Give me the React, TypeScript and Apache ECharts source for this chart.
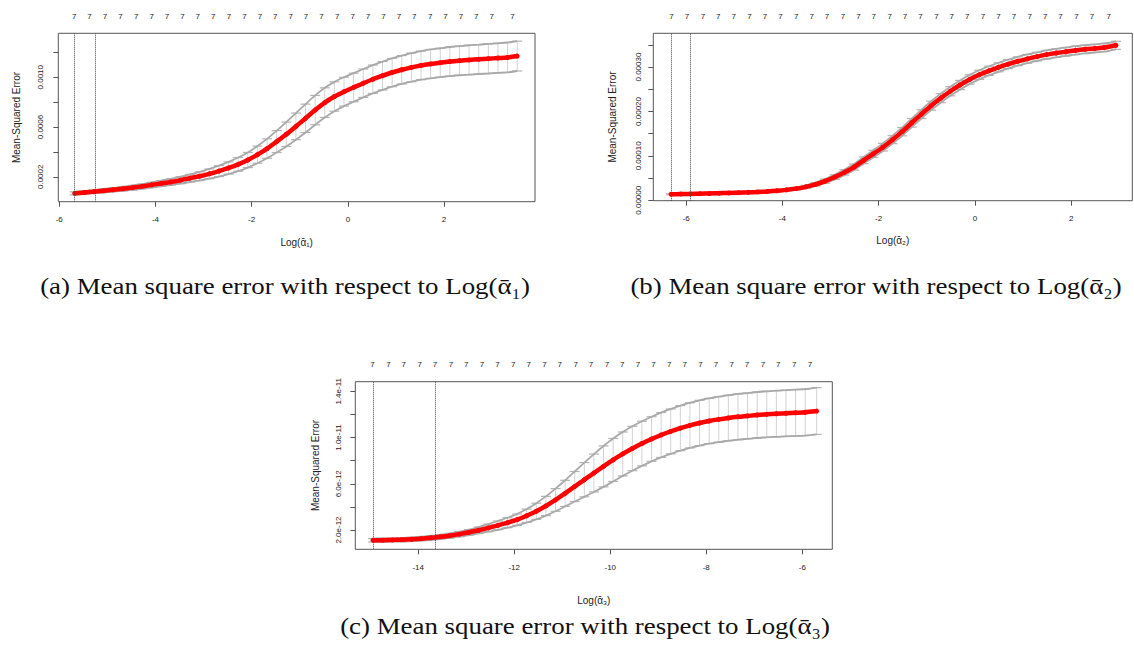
import React, { useEffect, useRef } from "react";
import * as echarts from "echarts";

// ---------------- Data: panel (a) ----------------
const logLambdaA = [-5.68, -5.48, -5.28, -5.08, -4.88, -4.68, -4.48, -4.28, -4.08, -3.88, -3.68, -3.48, -3.28, -3.08, -2.88, -2.68, -2.48, -2.28, -2.08, -1.88, -1.68, -1.48, -1.28, -1.08, -0.88, -0.68, -0.48, -0.28, -0.08, 0.12, 0.32, 0.52, 0.72, 0.92, 1.12, 1.32, 1.52, 1.72, 1.92, 2.12, 2.32, 2.52, 2.72, 2.92, 3.12, 3.32, 3.52];
const mseA = [0.67e-4, 0.73e-4, 0.81e-4, 0.88e-4, 0.96e-4, 1.04e-4, 1.13e-4, 1.23e-4, 1.35e-4, 1.47e-4, 1.59e-4, 1.73e-4, 1.89e-4, 2.05e-4, 2.24e-4, 2.46e-4, 2.71e-4, 3.0e-4, 3.35e-4, 3.78e-4, 4.27e-4, 4.83e-4, 5.42e-4, 6.05e-4, 6.70e-4, 7.36e-4, 7.96e-4, 8.45e-4, 8.84e-4, 9.18e-4, 9.52e-4, 9.84e-4, 10.12e-4, 10.38e-4, 10.60e-4, 10.79e-4, 10.95e-4, 11.07e-4, 11.17e-4, 11.26e-4, 11.33e-4, 11.39e-4, 11.44e-4, 11.49e-4, 11.54e-4, 11.59e-4, 11.70e-4];
const sdA = [0.12e-4, 0.12e-4, 0.13e-4, 0.14e-4, 0.15e-4, 0.16e-4, 0.18e-4, 0.19e-4, 0.21e-4, 0.23e-4, 0.25e-4, 0.28e-4, 0.31e-4, 0.35e-4, 0.39e-4, 0.44e-4, 0.49e-4, 0.55e-4, 0.61e-4, 0.69e-4, 0.78e-4, 0.88e-4, 0.98e-4, 1.07e-4, 1.14e-4, 1.18e-4, 1.19e-4, 1.18e-4, 1.16e-4, 1.15e-4, 1.14e-4, 1.14e-4, 1.14e-4, 1.14e-4, 1.14e-4, 1.15e-4, 1.15e-4, 1.16e-4, 1.16e-4, 1.17e-4, 1.17e-4, 1.18e-4, 1.18e-4, 1.19e-4, 1.19e-4, 1.20e-4, 1.20e-4];
const vlinesA = [-5.68, -5.26];
const nzPosA = [-5.69, -5.37, -5.05, -4.73, -4.40, -4.08, -3.76, -3.44, -3.12, -2.80, -2.47, -2.15, -1.83, -1.51, -1.19, -0.87, -0.55, -0.22, 0.10, 0.42, 0.74, 1.06, 1.38, 1.71, 2.03, 2.35, 2.67, 2.99, 3.42];
const xTicksA = [-6, -4, -2, 0, 2];
const yTicksA = [0.0002, 0.0004, 0.0006, 0.0008, 0.0010, 0.0012];
const yLabelsA = [0.0002, 0.0006, 0.0010];

// ---------------- Data: panel (b) ----------------
const logLambdaB = [-6.31, -6.11, -5.91, -5.71, -5.51, -5.31, -5.11, -4.91, -4.71, -4.51, -4.31, -4.11, -3.91, -3.71, -3.51, -3.31, -3.11, -2.91, -2.71, -2.51, -2.31, -2.11, -1.91, -1.71, -1.51, -1.31, -1.11, -0.91, -0.71, -0.51, -0.31, -0.11, 0.09, 0.29, 0.49, 0.69, 0.89, 1.09, 1.29, 1.49, 1.69, 1.89, 2.09, 2.29, 2.49, 2.69, 2.93];
const mseB = [1.35e-5, 1.39e-5, 1.43e-5, 1.48e-5, 1.53e-5, 1.59e-5, 1.65e-5, 1.71e-5, 1.78e-5, 1.88e-5, 1.99e-5, 2.14e-5, 2.34e-5, 2.62e-5, 3.02e-5, 3.58e-5, 4.30e-5, 5.22e-5, 6.28e-5, 7.48e-5, 9.00e-5, 10.45e-5, 11.95e-5, 13.65e-5, 15.45e-5, 17.45e-5, 19.40e-5, 21.30e-5, 23.00e-5, 24.55e-5, 25.95e-5, 27.20e-5, 28.25e-5, 29.15e-5, 29.95e-5, 30.65e-5, 31.30e-5, 31.85e-5, 32.35e-5, 32.80e-5, 33.15e-5, 33.45e-5, 33.75e-5, 34.00e-5, 34.20e-5, 34.40e-5, 34.90e-5];
const sdB = [0.12e-5, 0.12e-5, 0.13e-5, 0.13e-5, 0.14e-5, 0.14e-5, 0.15e-5, 0.16e-5, 0.17e-5, 0.18e-5, 0.20e-5, 0.22e-5, 0.25e-5, 0.29e-5, 0.34e-5, 0.40e-5, 0.47e-5, 0.54e-5, 0.61e-5, 0.68e-5, 0.75e-5, 0.81e-5, 0.86e-5, 0.90e-5, 0.94e-5, 0.97e-5, 0.99e-5, 1.01e-5, 1.02e-5, 1.03e-5, 1.04e-5, 1.04e-5, 1.04e-5, 1.03e-5, 1.02e-5, 1.01e-5, 1.00e-5, 0.99e-5, 0.98e-5, 0.97e-5, 0.96e-5, 0.95e-5, 0.94e-5, 0.93e-5, 0.92e-5, 0.91e-5, 0.90e-5];
const vlinesB = [-6.31, -5.92];
const nzPosB = [-6.30, -5.98, -5.65, -5.33, -5.01, -4.68, -4.36, -4.04, -3.71, -3.39, -3.07, -2.74, -2.42, -2.10, -1.77, -1.45, -1.13, -0.80, -0.48, -0.16, 0.17, 0.49, 0.81, 1.14, 1.46, 1.78, 2.11, 2.43, 2.78];
const xTicksB = [-6, -4, -2, 0, 2];
const yTicksB = [0, 0.00005, 0.0001, 0.00015, 0.0002, 0.00025, 0.0003, 0.00035];
const yLabelsB = [0, 0.0001, 0.0002, 0.0003];

// ---------------- Data: panel (c) ----------------
const logLambdaC = [-14.94, -14.74, -14.54, -14.34, -14.14, -13.94, -13.74, -13.54, -13.34, -13.14, -12.94, -12.74, -12.54, -12.34, -12.14, -11.94, -11.74, -11.54, -11.34, -11.14, -10.94, -10.74, -10.54, -10.34, -10.14, -9.94, -9.74, -9.54, -9.34, -9.14, -8.94, -8.74, -8.54, -8.34, -8.14, -7.94, -7.74, -7.54, -7.34, -7.14, -6.94, -6.74, -6.54, -6.34, -6.14, -5.94, -5.70];
const mseC = [1.11e-12, 1.12e-12, 1.14e-12, 1.16e-12, 1.20e-12, 1.25e-12, 1.32e-12, 1.41e-12, 1.51e-12, 1.64e-12, 1.80e-12, 1.98e-12, 2.18e-12, 2.40e-12, 2.63e-12, 2.89e-12, 3.23e-12, 3.62e-12, 4.08e-12, 4.60e-12, 5.17e-12, 5.76e-12, 6.35e-12, 6.93e-12, 7.50e-12, 8.06e-12, 8.58e-12, 9.05e-12, 9.48e-12, 9.87e-12, 10.22e-12, 10.53e-12, 10.81e-12, 11.05e-12, 11.26e-12, 11.43e-12, 11.57e-12, 11.69e-12, 11.79e-12, 11.87e-12, 11.95e-12, 12.01e-12, 12.06e-12, 12.10e-12, 12.14e-12, 12.18e-12, 12.29e-12];
const sdC = [0.15e-12, 0.15e-12, 0.15e-12, 0.16e-12, 0.16e-12, 0.17e-12, 0.18e-12, 0.19e-12, 0.20e-12, 0.22e-12, 0.24e-12, 0.28e-12, 0.33e-12, 0.38e-12, 0.43e-12, 0.49e-12, 0.58e-12, 0.70e-12, 0.83e-12, 0.98e-12, 1.13e-12, 1.30e-12, 1.48e-12, 1.64e-12, 1.77e-12, 1.86e-12, 1.90e-12, 1.92e-12, 1.93e-12, 1.93e-12, 1.94e-12, 1.94e-12, 1.95e-12, 1.95e-12, 1.96e-12, 1.96e-12, 1.97e-12, 1.97e-12, 1.98e-12, 1.98e-12, 1.99e-12, 1.99e-12, 2.00e-12, 2.00e-12, 2.01e-12, 2.01e-12, 2.02e-12];
const vlinesC = [-14.94, -13.64];
const nzPosC = [-14.95, -14.62, -14.30, -13.97, -13.65, -13.32, -13.00, -12.67, -12.35, -12.02, -11.70, -11.37, -11.05, -10.72, -10.40, -10.07, -9.75, -9.42, -9.10, -8.77, -8.45, -8.12, -7.80, -7.47, -7.15, -6.82, -6.50, -6.17, -5.84];
const xTicksC = [-14, -12, -10, -8, -6];
const yTicksC = [2e-12, 4e-12, 6e-12, 8e-12, 1e-11, 1.2e-11, 1.4e-11];
const yLabelsC = [2e-12, 6e-12, 1e-11, 1.4e-11];

const NZERO = 7;
const Y_TITLE = "Mean-Squared Error";
const captions = [
  "(a) Mean square error with respect to Log(\u1FB1\u2081)",
  "(b) Mean square error with respect to Log(\u1FB1\u2082)",
  "(c) Mean square error with respect to Log(\u1FB1\u2083)",
];
const xTitles = ["Log(\u1FB1\u2081)", "Log(\u1FB1\u2082)", "Log(\u1FB1\u2083)"];

const SANS = '"Liberation Sans", Arial, Helvetica, sans-serif';
const SERIF = '"Liberation Serif", "Times New Roman", Times, serif';

const panels = [
  {
    x: logLambdaA, m: mseA, s: sdA, vl: vlinesA, nz: nzPosA,
    xTicks: xTicksA, yTicks: yTicksA, yLabels: yLabelsA,
    fmt: (v: number) => v.toFixed(4),
    xr: [-6.02, 3.89], yr: [0, 0.001353],
    box: { left: 58.3, top: 33.3, width: 476.7, height: 168.4 },
    xNameGap: 35.5, yNameGap: 37, yLabMargin: 13.5,
  },
  {
    x: logLambdaB, m: mseB, s: sdB, vl: vlinesB, nz: nzPosB,
    xTicks: xTicksB, yTicks: yTicksB, yLabels: yLabelsB,
    fmt: (v: number) => v.toFixed(5),
    xr: [-6.68, 3.27], yr: [-0.000001, 0.000376],
    box: { left: 653.3, top: 33.3, width: 479, height: 167.4 },
    xNameGap: 35, yNameGap: 36, yLabMargin: 10.5,
  },
  {
    x: logLambdaC, m: mseC, s: sdC, vl: vlinesC, nz: nzPosC,
    xTicks: xTicksC, yTicks: yTicksC, yLabels: yLabelsC,
    fmt: (v: number) => v.toExponential(1),
    xr: [-15.31, -5.375], yr: [0.33e-12, 1.483e-11],
    box: { left: 355.3, top: 381.7, width: 477, height: 167.6 },
    xNameGap: 46, yNameGap: 35, yLabMargin: 13,
  },
];

const captionPos = [
  { x: 285, y: 286 },
  { x: 876, y: 286 },
  { x: 585, y: 626 },
];

function buildOption() {
  const grid: any[] = [];
  const xAxis: any[] = [];
  const yAxis: any[] = [];
  const series: any[] = [];

  panels.forEach((p, i) => {
    grid.push({
      ...p.box,
      show: true,
      borderColor: "#555",
      borderWidth: 1,
      backgroundColor: "transparent",
      containLabel: false,
      outerBoundsMode: "none",
    });
    xAxis.push({
      type: "value",
      gridIndex: i,
      position: "bottom",
      min: p.xr[0],
      max: p.xr[1],
      axisLine: { show: false, onZero: false },
      axisTick: { show: true, length: 5, customValues: p.xTicks, lineStyle: { color: "#555", width: 1 } },
      axisLabel: {
        show: true, customValues: p.xTicks, margin: 14, fontSize: 8, fontFamily: SANS, color: "#222",
        formatter: (v: number) => String(v),
      },
      splitLine: { show: false },
      name: xTitles[i],
      nameLocation: "middle",
      nameGap: p.xNameGap,
      nameTextStyle: { fontSize: 10, fontFamily: SANS, color: "#222" },
    });
    xAxis.push({
      type: "value",
      gridIndex: i,
      position: "top",
      min: p.xr[0],
      max: p.xr[1],
      axisLine: { show: false, onZero: false },
      axisTick: { show: false },
      axisLabel: {
        show: true, customValues: p.nz, margin: 13, fontSize: 8, fontFamily: SANS, color: "#222",
        formatter: () => String(NZERO),
      },
      splitLine: { show: false },
    });
    yAxis.push({
      type: "value",
      gridIndex: i,
      position: "left",
      min: p.yr[0],
      max: p.yr[1],
      axisLine: { show: false, onZero: false },
      axisTick: { show: true, length: 5, customValues: p.yTicks, lineStyle: { color: "#555", width: 1 } },
      axisLabel: {
        show: true, customValues: p.yLabels, rotate: 90, margin: p.yLabMargin, fontSize: 8,
        fontFamily: SANS, color: "#222", formatter: p.fmt,
      },
      splitLine: { show: false },
      name: Y_TITLE,
      nameLocation: "middle",
      nameRotate: 90,
      nameGap: p.yNameGap,
      nameTextStyle: { fontSize: 10, fontFamily: SANS, color: "#222" },
    });

    const barData = p.x.map((xv, k) => [xv, p.m[k] - p.s[k], p.m[k] + p.s[k]]);
    series.push({
      type: "custom",
      xAxisIndex: 2 * i,
      yAxisIndex: i,
      data: barData,
      encode: { x: 0, y: [1, 2] },
      silent: true,
      z: 2,
      renderItem: (_params: any, api: any) => {
        const xv = api.value(0);
        const lo = api.coord([xv, api.value(1)]);
        const hi = api.coord([xv, api.value(2)]);
        const hw = 5;
        return {
          type: "group",
          children: [
            { type: "line", shape: { x1: lo[0], y1: lo[1], x2: hi[0], y2: hi[1] }, style: { stroke: "#d2d2d2", lineWidth: 1 } },
            { type: "line", shape: { x1: hi[0] - hw, y1: hi[1], x2: hi[0] + hw, y2: hi[1] }, style: { stroke: "#b4b4b4", lineWidth: 1.2 } },
            { type: "line", shape: { x1: lo[0] - hw, y1: lo[1], x2: lo[0] + hw, y2: lo[1] }, style: { stroke: "#b4b4b4", lineWidth: 1.2 } },
          ],
        };
      },
    });
    // upper and lower envelopes of the error bars (continuous caps)
    [1, 2].forEach((col) => {
      series.push({
        type: "line",
        xAxisIndex: 2 * i,
        yAxisIndex: i,
        data: barData.map((d) => [d[0], d[col]]),
        smooth: 0.3,
        showSymbol: false,
        lineStyle: { color: "#a9a9a9", width: 1.8 },
        silent: true,
        z: 2,
      });
    });
    series.push({
      type: "line",
      xAxisIndex: 2 * i,
      yAxisIndex: i,
      data: p.x.map((xv, k) => [xv, p.m[k]]),
      smooth: 0.3,
      symbol: "circle",
      symbolSize: 5,
      showSymbol: true,
      itemStyle: { color: "#ff0000" },
      lineStyle: { color: "#ff0000", width: 4.5 },
      silent: true,
      z: 3,
      markLine: {
        silent: true,
        symbol: ["none", "none"],
        label: { show: false },
        lineStyle: { type: "dotted", color: "#444", width: 1 },
        data: p.vl.map((v) => ({ xAxis: v })),
      },
    });
  });

  const graphic = captions.map((t, i) => ({
    type: "text",
    x: captionPos[i].x,
    y: captionPos[i].y,
    scaleX: 1.12,
    style: {
      text: t,
      fontSize: 24,
      fontFamily: SERIF,
      fill: "#111",
      align: "center",
      verticalAlign: "middle",
    },
  }));

  return {
    animation: false,
    backgroundColor: "#ffffff",
    grid,
    xAxis,
    yAxis,
    series,
    graphic,
  };
}

export default function App() {
  const ref = useRef<HTMLDivElement>(null);
  useEffect(() => {
    if (!ref.current) return;
    const chart = echarts.init(ref.current, undefined, { renderer: "svg" });
    chart.setOption(buildOption() as any);
    return () => chart.dispose();
  }, []);
  return (
    <div
      ref={ref}
      style={{ position: "fixed", left: 0, top: 0, width: 1134, height: 653, background: "#fff" }}
    />
  );
}
